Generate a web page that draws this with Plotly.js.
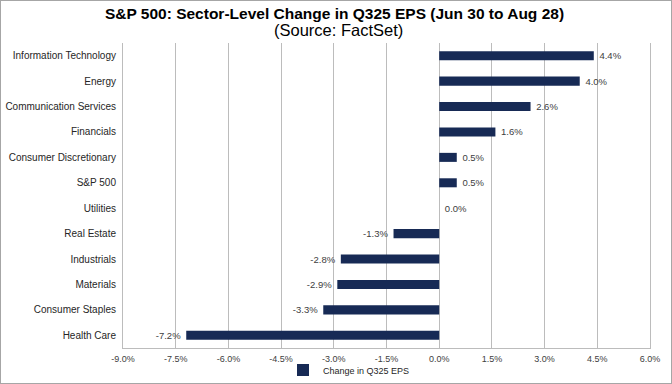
<!DOCTYPE html>
<html>
<head>
<meta charset="utf-8">
<script src="https://cdn.plot.ly/plotly-3.0.1.min.js"></script>
<style>
  html, body { margin: 0; padding: 0; background: #fff; }
  #chart { width: 670px; height: 382px; border: 1px solid #a6a6a6; }
</style>
</head>
<body>
<div id="chart"></div>
<script>
const categories = [
  "Information Technology", "Energy", "Communication Services", "Financials",
  "Consumer Discretionary", "S&P 500", "Utilities", "Real Estate",
  "Industrials", "Materials", "Consumer Staples", "Health Care"
];
const values = [4.4, 4.0, 2.6, 1.6, 0.5, 0.5, 0.0, -1.3, -2.8, -2.9, -3.3, -7.2];
const seriesName = "Change in Q325 EPS";
const tickVals = [-9, -7.5, -6, -4.5, -3, -1.5, 0, 1.5, 3, 4.5, 6];
const tickText = ["-9.0%", "-7.5%", "-6.0%", "-4.5%", "-3.0%", "-1.5%", "0.0%", "1.5%", "3.0%", "4.5%", "6.0%"];
const titleText = "S&P 500: Sector-Level Change in Q325 EPS (Jun 30 to Aug 28)";
const subtitleText = "(Source: FactSet)";

const NAVY = "#172a55";
const GRID = "#bcbcbc";
const FONT = "Liberation Sans, Arial, sans-serif";

const labels = values.map(v => v >= 0 ? "\u00a0" + v.toFixed(1) + "%" : v.toFixed(1) + "%\u00a0");

const trace = {
  type: "bar",
  orientation: "h",
  x: values,
  y: categories,
  name: seriesName,
  marker: { color: NAVY, line: { width: 0 } },
  text: labels,
  textposition: "outside",
  constraintext: "none",
  cliponaxis: false,
  textfont: { family: FONT, size: 9.5, color: "#404040" },
  hoverinfo: "x+y"
};

const layout = {
  width: 670, height: 382,
  margin: { l: 122, r: 21, t: 42, b: 35, autoexpand: false },
  paper_bgcolor: "#ffffff",
  plot_bgcolor: "#ffffff",
  font: { family: FONT, color: "#262626" },
  bargap: 0.645,
  title: {
    text: "<b>" + titleText + "</b>",
    font: { family: FONT, size: 15.5, color: "#000000" },
    x: 333.5 / 670, xanchor: "center", xref: "container",
    y: 1 - 12.5 / 382, yanchor: "middle", yref: "container"
  },
  annotations: [{
    text: subtitleText,
    xref: "paper", yref: "paper",
    x: (337.3 - 122) / 527, y: 1 + (42 - 29) / 305,
    xanchor: "center", yanchor: "middle",
    showarrow: false,
    font: { family: FONT, size: 16.5, color: "#000000" }
  }],
  xaxis: {
    range: [-9, 6],
    tickvals: tickVals,
    ticktext: tickText,
    showgrid: true, gridcolor: GRID, gridwidth: 1,
    zeroline: true, zerolinecolor: GRID, zerolinewidth: 1,
    showline: true, linecolor: GRID, linewidth: 1, mirror: false,
    ticks: "", ticklabelstandoff: 2,
    tickfont: { family: FONT, size: 9, color: "#404040" },
    fixedrange: true
  },
  yaxis: {
    type: "category",
    autorange: "reversed",
    showgrid: false, zeroline: false,
    showline: true, linecolor: GRID, linewidth: 1, mirror: true,
    ticks: "", ticklabelstandoff: 4,
    tickfont: { family: FONT, size: 10, color: "#262626" },
    fixedrange: true
  },
  showlegend: true,
  legend: {
    orientation: "h",
    x: (282 - 122) / 527, xanchor: "left",
    y: (347 - 369) / 305, yanchor: "middle",
    font: { family: FONT, size: 9, color: "#262626" },
    bgcolor: "rgba(0,0,0,0)"
  }
};

Plotly.newPlot("chart", [trace], layout, { displayModeBar: false, staticPlot: true });
</script>
</body>
</html>
